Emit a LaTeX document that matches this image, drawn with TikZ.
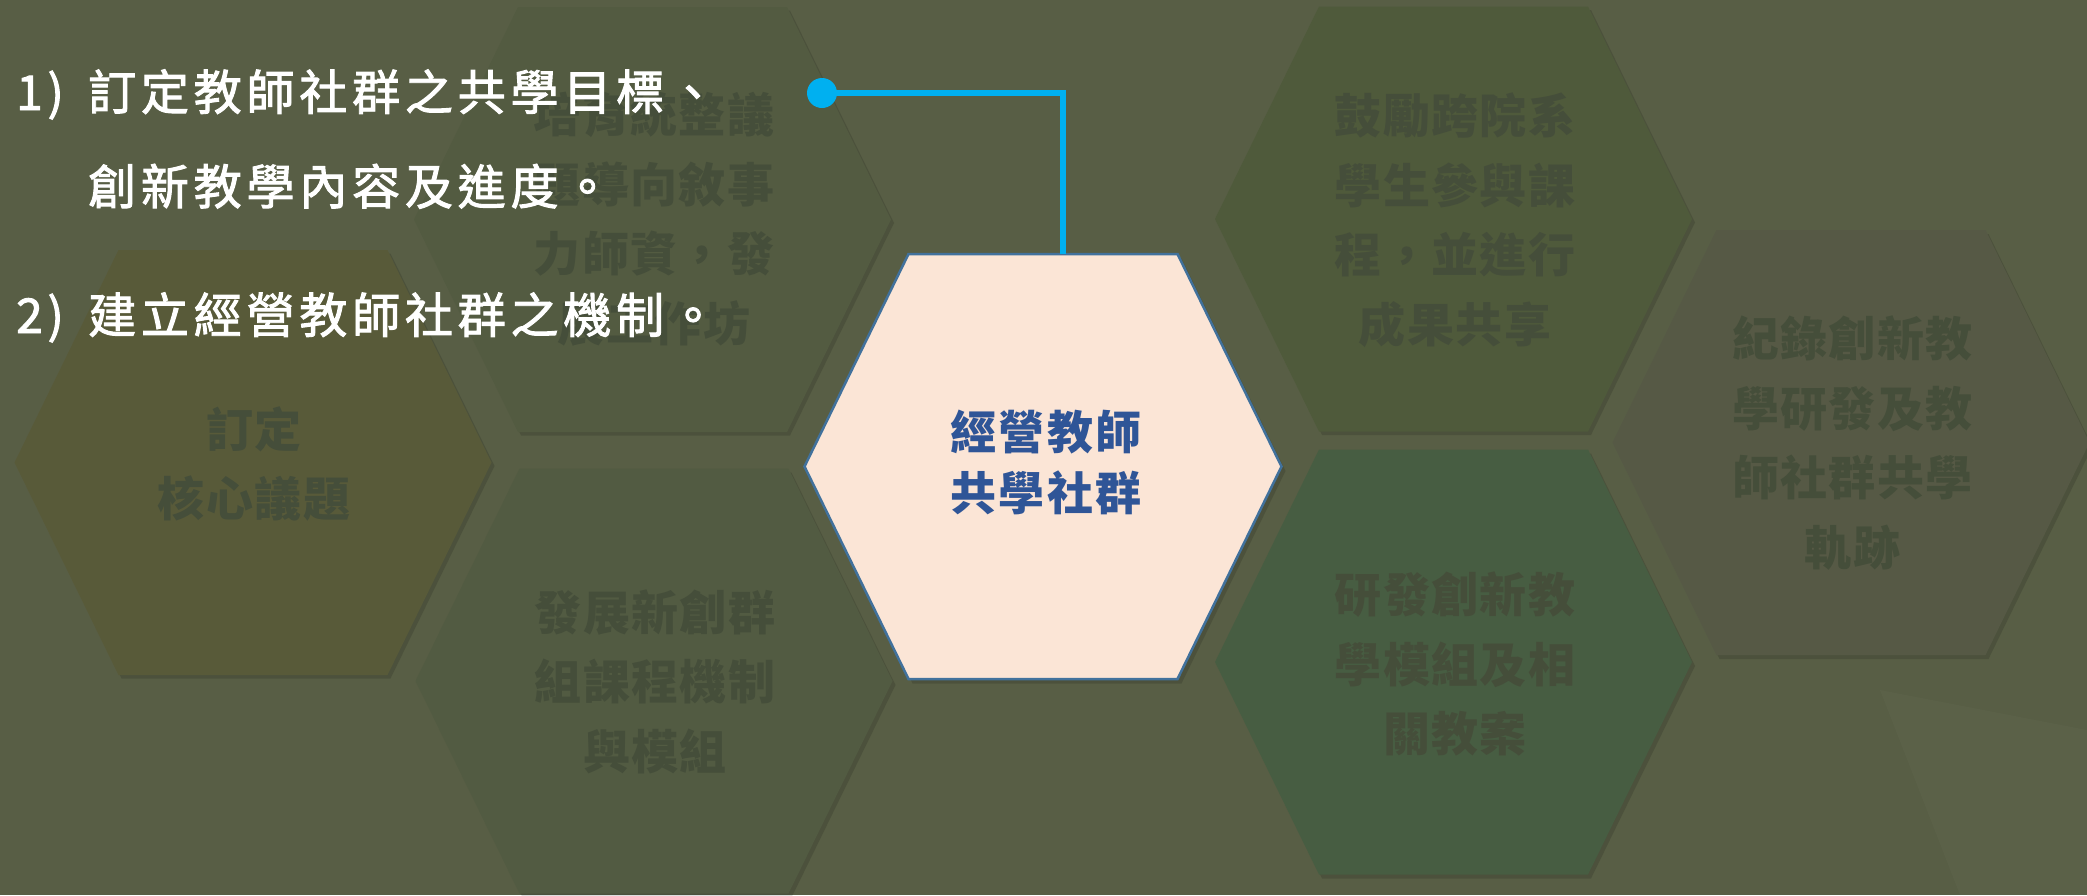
\documentclass[tikz,border=0pt]{standalone}
\usepackage{fontspec}
\setmainfont{Noto Sans CJK TC}
\newfontfamily\whitefont{Noto Sans CJK TC}[LetterSpace=10,FakeBold=2]
\newfontfamily\hidfont{Noto Sans CJK TC}[LetterSpace=3]
\newfontfamily\ctrfont{Noto Sans CJK TC}[LetterSpace=5]
\definecolor{bgc}{HTML}{585E45}
\definecolor{hexAc}{HTML}{535B41}
\definecolor{hexLc}{HTML}{585A39}
\definecolor{hexBc}{HTML}{525B42}
\definecolor{hexCc}{HTML}{4F5A3B}
\definecolor{hexDc}{HTML}{475D42}
\definecolor{hexEc}{HTML}{565945}
\definecolor{hidtxtc}{HTML}{454E3A}
\definecolor{ctrfillc}{HTML}{FBE5D6}
\definecolor{ctrdrawc}{HTML}{41719C}
\definecolor{ctrtextc}{HTML}{2F5597}
\definecolor{connc}{HTML}{00B0F0}
\tikzset{
  hexshape/.pic={\path[pic actions] (-238.5,0) -- (-134.5,-212.5) -- (134.5,-212.5) -- (238.5,0) -- (134.5,212.5) -- (-134.5,212.5) -- cycle;},
  hexshadow/.style={fill=black, opacity=0.13},
  hidtxt/.style={text=hidtxtc, font=\hidfont\bfseries\fontsize{47}{69.5}\selectfont, align=center, inner sep=0},
  whitetxt/.style={text=white, font=\whitefont\fontsize{48}{60}\selectfont, inner sep=0, anchor=base west},
  ctrtxt/.style={text=ctrtextc, font=\ctrfont\bfseries\fontsize{46}{61}\selectfont, align=center, inner sep=0},
  conn/.style={draw=connc, line width=6.5},
}
\begin{document}
\begin{tikzpicture}[x=1pt,y=-1pt]
\useasboundingbox (0,0) rectangle (2087,895);
\fill[bgc] (0,0) rectangle (2087,895);
% faint decoration lower right
\fill[white, opacity=0.02] (1880,690) -- (2087,730) -- (2087,895) -- (1960,895) -- cycle;
% shadows
\pic[hexshadow] at (655.5,223) {hexshape};
\pic[hexshadow] at (256,466) {hexshape};
\pic[hexshadow] at (657,685) {hexshape};
\pic[hexshadow] at (1456.5,222.5) {hexshape};
\pic[hexshadow] at (1456.5,666) {hexshape};
\pic[hexshadow] at (1854,446.5) {hexshape};
\pic[hexshadow] at (1047,471) {hexshape};
% hexagons
\pic[fill=hexAc] at (652.5,219.5) {hexshape};
\pic[fill=hexLc] at (253,462.5) {hexshape};
\pic[fill=hexBc] at (654,681) {hexshape};
\pic[fill=hexCc] at (1453.5,219) {hexshape};
\pic[fill=hexDc] at (1453.5,662) {hexshape};
\pic[fill=hexEc] at (1851,442.5) {hexshape};
\pic[fill=ctrfillc, draw=ctrdrawc, line width=2.5] at (1043,466.5) {hexshape};
% hidden texts
\node[hidtxt] (tA) at (654,219) {培育統整議\\題導向敘事\\力師資，發\\展工作坊};
\node[hidtxt] (tL) at (254,464) {訂定\\核心議題};
\node[hidtxt] (tB) at (655,681.5) {發展新創群\\組課程機制\\與模組};
\node[hidtxt] (tC) at (1455,220) {鼓勵跨院系\\學生參與課\\程，並進行\\成果共享};
\node[hidtxt] (tD) at (1455,664) {研發創新教\\學模組及相\\關教案};
\node[hidtxt] (tE) at (1852.5,443) {紀錄創新教\\學研發及教\\師社群共學\\軌跡};
% center text
\node[ctrtxt] (ctr) at (1046,462.5) {經營教師\\共學社群};
\coordinate (ctop) at (1063,254);
% white text
\node[whitetxt] (n1) at (16,110) {1)};
\node[whitetxt] (t1) at (88,110) {訂定教師社群之共學目標、};
\node[whitetxt] (t2) at (88,204.5) {創新教學內容及進度。};
\node[whitetxt] (n2) at (16,333) {2)};
\node[whitetxt] (t3) at (88,333) {建立經營教師社群之機制。};
% connector
\node[circle, fill=connc, minimum size=30, inner sep=0] (dot) at (822,93) {};
\draw[conn] (dot.center) -| (ctop);
\end{tikzpicture}
\end{document}
